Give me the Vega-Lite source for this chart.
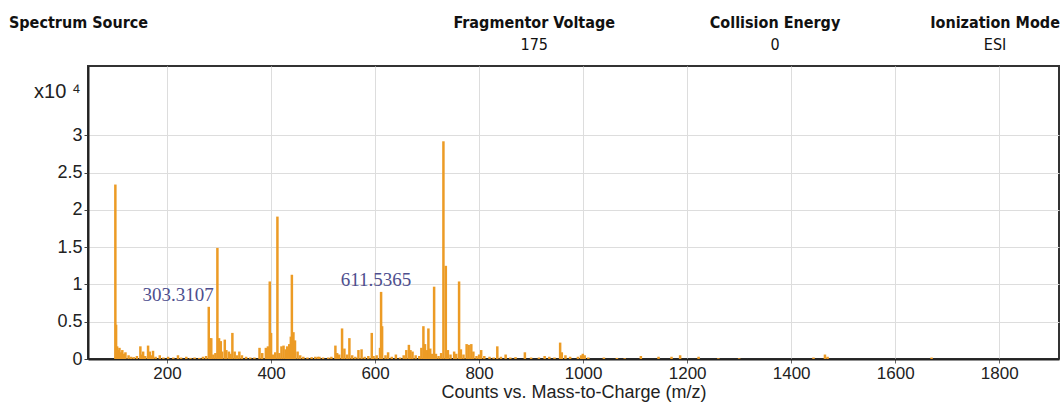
{
  "$schema": "https://vega.github.io/schema/vega-lite/v6.json",
  "width": 971,
  "height": 293,
  "autosize": {"type": "none"},
  "padding": {"left": 88, "top": 66, "right": 4, "bottom": 50},
  "background": "white",
  "config": {"view": {"stroke": "#333333", "strokeWidth": 2}, "font": "Liberation Sans"},
  "datasets": {
    "spectrum": [
      {"mz": 100.6, "counts": 23400}, {"mz": 102, "counts": 4600}, {"mz": 104, "counts": 1700}, {"mz": 106, "counts": 1200},
      {"mz": 108.5, "counts": 1500}, {"mz": 111, "counts": 900}, {"mz": 114, "counts": 1200}, {"mz": 117, "counts": 700},
      {"mz": 120, "counts": 900}, {"mz": 126, "counts": 500}, {"mz": 131, "counts": 300}, {"mz": 136, "counts": 250},
      {"mz": 142, "counts": 400}, {"mz": 148.7, "counts": 1700}, {"mz": 151, "counts": 600}, {"mz": 154, "counts": 1000},
      {"mz": 158, "counts": 400}, {"mz": 163.5, "counts": 1800}, {"mz": 166.7, "counts": 1000}, {"mz": 170, "counts": 500},
      {"mz": 173, "counts": 1100}, {"mz": 178, "counts": 300}, {"mz": 186, "counts": 500}, {"mz": 193, "counts": 200},
      {"mz": 202, "counts": 300}, {"mz": 212, "counts": 200}, {"mz": 221, "counts": 500}, {"mz": 227, "counts": 200},
      {"mz": 237, "counts": 300}, {"mz": 245, "counts": 150}, {"mz": 253, "counts": 200}, {"mz": 262, "counts": 150},
      {"mz": 269, "counts": 300}, {"mz": 275, "counts": 400}, {"mz": 280.2, "counts": 7000}, {"mz": 282, "counts": 2800},
      {"mz": 285, "counts": 2800}, {"mz": 289, "counts": 600}, {"mz": 293, "counts": 800}, {"mz": 296.8, "counts": 14900},
      {"mz": 300, "counts": 2800}, {"mz": 303.3107, "counts": 2400}, {"mz": 306, "counts": 1000}, {"mz": 311, "counts": 2600},
      {"mz": 314, "counts": 1200}, {"mz": 319, "counts": 1000}, {"mz": 322, "counts": 700}, {"mz": 325.6, "counts": 3500},
      {"mz": 330, "counts": 1000}, {"mz": 334, "counts": 500}, {"mz": 339, "counts": 1000}, {"mz": 344, "counts": 500},
      {"mz": 352, "counts": 300}, {"mz": 360, "counts": 200}, {"mz": 368, "counts": 200}, {"mz": 377.8, "counts": 1500},
      {"mz": 383, "counts": 800}, {"mz": 390, "counts": 1500}, {"mz": 394, "counts": 1700}, {"mz": 397.5, "counts": 10400},
      {"mz": 400, "counts": 3500}, {"mz": 404, "counts": 600}, {"mz": 408, "counts": 900}, {"mz": 412.2, "counts": 19100},
      {"mz": 416, "counts": 800}, {"mz": 420, "counts": 1700}, {"mz": 424, "counts": 1800}, {"mz": 428, "counts": 1300},
      {"mz": 431, "counts": 1700}, {"mz": 435, "counts": 2000}, {"mz": 438, "counts": 3000}, {"mz": 440, "counts": 11300},
      {"mz": 443, "counts": 3600}, {"mz": 446, "counts": 2500}, {"mz": 451, "counts": 1000}, {"mz": 456, "counts": 500},
      {"mz": 462, "counts": 300}, {"mz": 470, "counts": 200}, {"mz": 478, "counts": 250}, {"mz": 485, "counts": 300},
      {"mz": 490, "counts": 300}, {"mz": 493, "counts": 300}, {"mz": 500, "counts": 200}, {"mz": 510, "counts": 200},
      {"mz": 516, "counts": 300}, {"mz": 523.7, "counts": 1800}, {"mz": 527, "counts": 800}, {"mz": 531, "counts": 600},
      {"mz": 536.5, "counts": 4100}, {"mz": 541, "counts": 1400}, {"mz": 546, "counts": 600}, {"mz": 550.6, "counts": 2800},
      {"mz": 556, "counts": 500}, {"mz": 562, "counts": 300}, {"mz": 568, "counts": 1200}, {"mz": 574, "counts": 1300},
      {"mz": 580, "counts": 300}, {"mz": 587, "counts": 400}, {"mz": 593.6, "counts": 3500}, {"mz": 597, "counts": 400},
      {"mz": 603, "counts": 500}, {"mz": 609.5, "counts": 1500}, {"mz": 611.5365, "counts": 9000}, {"mz": 613.5, "counts": 4400},
      {"mz": 620, "counts": 500}, {"mz": 625, "counts": 900}, {"mz": 632, "counts": 300}, {"mz": 640, "counts": 600},
      {"mz": 648, "counts": 200}, {"mz": 655, "counts": 500}, {"mz": 660, "counts": 1200}, {"mz": 665, "counts": 1900},
      {"mz": 668, "counts": 1200}, {"mz": 672, "counts": 1000}, {"mz": 678, "counts": 500}, {"mz": 685, "counts": 400},
      {"mz": 689, "counts": 1500}, {"mz": 692.9, "counts": 4400}, {"mz": 696, "counts": 2000}, {"mz": 700, "counts": 1200},
      {"mz": 702.5, "counts": 4100}, {"mz": 706, "counts": 1400}, {"mz": 709, "counts": 700}, {"mz": 713.5, "counts": 9700},
      {"mz": 717, "counts": 700}, {"mz": 722, "counts": 400}, {"mz": 727, "counts": 800}, {"mz": 731.4, "counts": 29200},
      {"mz": 736, "counts": 12500}, {"mz": 740, "counts": 1200}, {"mz": 745, "counts": 600}, {"mz": 752, "counts": 1000},
      {"mz": 756, "counts": 700}, {"mz": 761.5, "counts": 10400}, {"mz": 765, "counts": 1300}, {"mz": 770, "counts": 600},
      {"mz": 776, "counts": 2000}, {"mz": 780, "counts": 1900}, {"mz": 785, "counts": 2000}, {"mz": 789, "counts": 1000},
      {"mz": 795, "counts": 400}, {"mz": 800, "counts": 600}, {"mz": 804, "counts": 1200}, {"mz": 810, "counts": 400},
      {"mz": 820, "counts": 300}, {"mz": 828, "counts": 200}, {"mz": 835, "counts": 1700}, {"mz": 842, "counts": 300},
      {"mz": 851, "counts": 600}, {"mz": 860, "counts": 200}, {"mz": 870, "counts": 250}, {"mz": 888, "counts": 900},
      {"mz": 900, "counts": 200}, {"mz": 915, "counts": 200}, {"mz": 926, "counts": 400}, {"mz": 935, "counts": 300},
      {"mz": 945, "counts": 200}, {"mz": 955.8, "counts": 2200}, {"mz": 959, "counts": 900}, {"mz": 966, "counts": 500},
      {"mz": 975, "counts": 300}, {"mz": 990, "counts": 300}, {"mz": 996, "counts": 500}, {"mz": 999.4, "counts": 700},
      {"mz": 1003, "counts": 500}, {"mz": 1010, "counts": 200}, {"mz": 1040, "counts": 200}, {"mz": 1065, "counts": 150},
      {"mz": 1080, "counts": 100}, {"mz": 1111, "counts": 400}, {"mz": 1145, "counts": 300}, {"mz": 1170, "counts": 300},
      {"mz": 1186.5, "counts": 500}, {"mz": 1222, "counts": 300}, {"mz": 1260, "counts": 100}, {"mz": 1300, "counts": 100},
      {"mz": 1443, "counts": 200}, {"mz": 1465, "counts": 600}, {"mz": 1470, "counts": 300}, {"mz": 1670, "counts": 200}
    ],
    "peaks": [
      {"mz": 303.3107, "counts": 2400},
      {"mz": 611.5365, "counts": 9000}
    ],
    "header": [
      {"name": "Spectrum Source", "value": ""},
      {"name": "Fragmentor Voltage", "value": "175"},
      {"name": "Collision Energy", "value": "0"},
      {"name": "Ionization Mode", "value": "ESI"}
    ]
  },
  "layer": [
    {
      "data": {"name": "spectrum"},
      "mark": {"type": "rule", "color": "#ec9b25", "strokeWidth": 2.5},
      "encoding": {
        "x": {
          "field": "mz", "type": "quantitative",
          "scale": {"domain": [48, 1915], "nice": false, "zero": false},
          "axis": {
            "values": [200, 400, 600, 800, 1000, 1200, 1400, 1600, 1800],
            "format": "d",
            "grid": true, "gridColor": "#dddddd", "gridWidth": 1,
            "domainColor": "#222222", "domainWidth": 2,
            "tickColor": "#666666", "tickSize": 4,
            "labelFont": "Liberation Sans", "labelFontSize": 17, "labelColor": "#222222", "labelPadding": 2, "labelFlush": false,
            "title": "Counts vs. Mass-to-Charge (m/z)", "titleFont": "Liberation Sans", "titleFontSize": 18,
            "titleFontWeight": "normal", "titleColor": "#222222", "titlePadding": 2
          }
        },
        "y": {
          "field": "counts", "type": "quantitative",
          "scale": {"domain": [0, 39300], "nice": false},
          "axis": {
            "values": [0, 5000, 10000, 15000, 20000, 25000, 30000],
            "labelExpr": "datum.value / 10000",
            "grid": true, "gridColor": "#dddddd", "gridWidth": 1,
            "domainColor": "#222222", "domainWidth": 2,
            "tickColor": "#444444", "tickSize": 4,
            "labelFont": "Liberation Sans", "labelFontSize": 18, "labelColor": "#222222", "labelPadding": 2,
            "title": "x10 ⁴", "titleFont": "Liberation Sans", "titleFontSize": 20, "titleFontWeight": "normal",
            "titleColor": "#222222", "titleAngle": 0, "titleAlign": "right", "titleBaseline": "alphabetic",
            "titleX": -8, "titleY": 31
          }
        },
        "y2": {"datum": 0}
      }
    },
    {
      "data": {"name": "peaks"},
      "transform": [{"filter": "datum.mz < 400"}],
      "mark": {"type": "text", "font": "Liberation Serif", "fontSize": 19, "color": "#4e4e8e", "align": "right", "baseline": "alphabetic", "dx": -7, "dy": -40},
      "encoding": {
        "x": {"field": "mz", "type": "quantitative"},
        "y": {"field": "counts", "type": "quantitative"},
        "text": {"field": "mz", "type": "quantitative", "format": ".4f"}
      }
    },
    {
      "data": {"name": "peaks"},
      "transform": [{"filter": "datum.mz > 400"}],
      "mark": {"type": "text", "font": "Liberation Serif", "fontSize": 19, "color": "#4e4e8e", "align": "center", "baseline": "alphabetic", "dx": -5, "dy": -6},
      "encoding": {
        "x": {"field": "mz", "type": "quantitative"},
        "y": {"field": "counts", "type": "quantitative"},
        "text": {"field": "mz", "type": "quantitative", "format": ".4f"}
      }
    },
    {
      "data": {"name": "header"},
      "transform": [{"filter": "datum.name === 'Spectrum Source'"}],
      "mark": {"type": "text", "font": "DejaVu Sans Condensed", "fontWeight": "bold", "fontSize": 16, "color": "#111111", "align": "left", "baseline": "alphabetic"},
      "encoding": {
        "x": {"datum": -104, "type": "quantitative"},
        "y": {"datum": 44430, "type": "quantitative"},
        "text": {"field": "name"}
      }
    },
    {
      "data": {"name": "header"},
      "transform": [{"filter": "datum.name === 'Fragmentor Voltage'"}],
      "encoding": {"x": {"datum": 906, "type": "quantitative"}},
      "layer": [
        {"mark": {"type": "text", "font": "DejaVu Sans Condensed", "fontWeight": "bold", "fontSize": 16, "color": "#111111", "align": "center", "baseline": "alphabetic"},
         "encoding": {"y": {"datum": 44430, "type": "quantitative"}, "text": {"field": "name"}}},
        {"mark": {"type": "text", "font": "DejaVu Sans Condensed", "fontSize": 16, "color": "#111111", "align": "center", "baseline": "alphabetic"},
         "encoding": {"y": {"datum": 41480, "type": "quantitative"}, "text": {"field": "value"}}}
      ]
    },
    {
      "data": {"name": "header"},
      "transform": [{"filter": "datum.name === 'Collision Energy'"}],
      "encoding": {"x": {"datum": 1369, "type": "quantitative"}},
      "layer": [
        {"mark": {"type": "text", "font": "DejaVu Sans Condensed", "fontWeight": "bold", "fontSize": 16, "color": "#111111", "align": "center", "baseline": "alphabetic"},
         "encoding": {"y": {"datum": 44430, "type": "quantitative"}, "text": {"field": "name"}}},
        {"mark": {"type": "text", "font": "DejaVu Sans Condensed", "fontSize": 16, "color": "#111111", "align": "center", "baseline": "alphabetic"},
         "encoding": {"y": {"datum": 41480, "type": "quantitative"}, "text": {"field": "value"}}}
      ]
    },
    {
      "data": {"name": "header"},
      "transform": [{"filter": "datum.name === 'Ionization Mode'"}],
      "encoding": {"x": {"datum": 1792, "type": "quantitative"}},
      "layer": [
        {"mark": {"type": "text", "font": "DejaVu Sans Condensed", "fontWeight": "bold", "fontSize": 16, "color": "#111111", "align": "center", "baseline": "alphabetic"},
         "encoding": {"y": {"datum": 44430, "type": "quantitative"}, "text": {"field": "name"}}},
        {"mark": {"type": "text", "font": "DejaVu Sans Condensed", "fontSize": 16, "color": "#111111", "align": "center", "baseline": "alphabetic"},
         "encoding": {"y": {"datum": 41480, "type": "quantitative"}, "text": {"field": "value"}}}
      ]
    }
  ]
}
